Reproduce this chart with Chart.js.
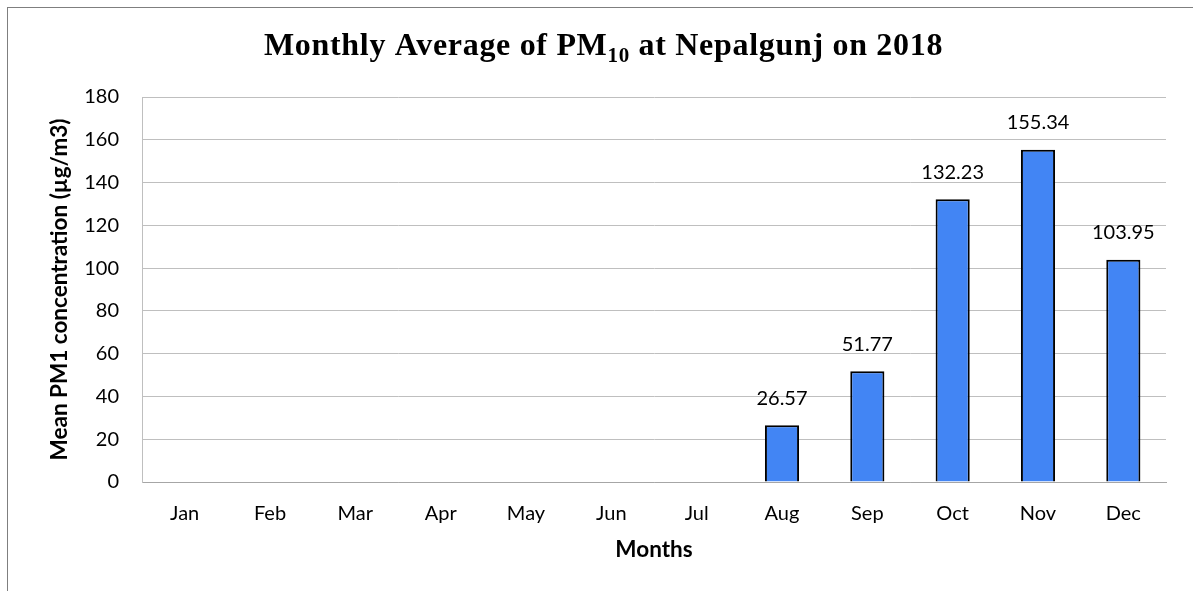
<!DOCTYPE html>
<html>
<head>
<meta charset="utf-8">
<script src="https://cdn.jsdelivr.net/npm/chart.js@4"></script>
<style>
  html, body { margin: 0; padding: 0; background: #fff; }
  #wrap { position: relative; width: 1193px; height: 591px; overflow: hidden; }
  canvas { display: block; }
</style>
</head>
<body>
<div id="wrap"><canvas id="c" width="1193" height="591"></canvas></div>
<script>
const months = ["Jan","Feb","Mar","Apr","May","Jun","Jul","Aug","Sep","Oct","Nov","Dec"];
const pm10Values = [null, null, null, null, null, null, null, 26.57, 51.77, 132.23, 155.34, 103.95];
const valueLabels = ["", "", "", "", "", "", "", "26.57", "51.77", "132.23", "155.34", "103.95"];
const yTicks = [0, 20, 40, 60, 80, 100, 120, 140, 160, 180];
const titleMain = "Monthly Average of PM";
const titleSub = "10";
const titleEnd = " at Nepalgunj on 2018";
const xAxisTitle = "Months";
const yAxisTitle = "Mean PM1 concentration (\u00b5g/m3)";

const SANS = "Lato, 'Open Sans', sans-serif";
const SERIF = "'Liberation Serif', 'DejaVu Serif', serif";

const decor = {
  id: 'decor',
  beforeDraw(chart) {
    const ctx = chart.ctx;
    ctx.save();
    ctx.fillStyle = '#fff';
    ctx.fillRect(0, 0, chart.width, chart.height);
    ctx.strokeStyle = '#7f7f7f';
    ctx.lineWidth = 1;
    ctx.strokeRect(7.5, 7.5, 2000, 2000);
    ctx.restore();
  },
  afterDraw(chart) {
    const ctx = chart.ctx;
    const area = chart.chartArea;
    ctx.save();
    // Title with subscript
    const size = 32;
    const subSize = 21;
    const hasLS = ('letterSpacing' in ctx);
    const widthOf = () => {
      ctx.font = `bold ${size}px ${SERIF}`;
      const a = ctx.measureText(titleMain).width + ctx.measureText(titleEnd).width;
      ctx.font = `bold ${subSize}px ${SERIF}`;
      return a + ctx.measureText(titleSub).width;
    };
    if (hasLS) ctx.letterSpacing = '0px';
    const natural = widthOf();
    if (hasLS) {
      const n = (titleMain + titleSub + titleEnd).length;
      const sp = Math.max(0, Math.min(2, (679 - natural) / n));
      ctx.letterSpacing = sp.toFixed(2) + 'px';
    }
    ctx.font = `bold ${size}px ${SERIF}`;
    const w1 = ctx.measureText(titleMain).width;
    const w3 = ctx.measureText(titleEnd).width;
    ctx.font = `bold ${subSize}px ${SERIF}`;
    const w2 = ctx.measureText(titleSub).width;
    const total = w1 + w2 + w3;
    let x = 603.5 - total / 2;
    ctx.fillStyle = '#000';
    ctx.textAlign = 'left';
    ctx.textBaseline = 'alphabetic';
    ctx.font = `bold ${size}px ${SERIF}`;
    ctx.fillText(titleMain, x, 55);
    x += w1;
    ctx.font = `bold ${subSize}px ${SERIF}`;
    ctx.fillText(titleSub, x, 62);
    x += w2;
    ctx.font = `bold ${size}px ${SERIF}`;
    ctx.fillText(titleEnd, x, 55);
    if (hasLS) ctx.letterSpacing = '0px';

    // Axis titles
    ctx.font = `bold 22.5px ${SANS}`;
    ctx.textAlign = 'center';
    ctx.textBaseline = 'middle';
    ctx.fillText(xAxisTitle, (area.left + area.right) / 2, 550);
    ctx.translate(60, (area.top + area.bottom) / 2);
    ctx.rotate(-Math.PI / 2);
    ctx.fillText(yAxisTitle, 0, 0);
    ctx.restore();

    // Data labels
    ctx.save();
    ctx.font = `20px ${SANS}`;
    ctx.fillStyle = '#000';
    ctx.textAlign = 'center';
    ctx.textBaseline = 'middle';
    const meta = chart.getDatasetMeta(0);
    meta.data.forEach((bar, i) => {
      if (pm10Values[i] == null) return;
      ctx.fillText(valueLabels[i], bar.x, bar.y - 27);
    });
    ctx.restore();
  }
};

new Chart(document.getElementById('c'), {
  type: 'bar',
  data: {
    labels: months,
    datasets: [{
      label: 'PM10',
      data: pm10Values,
      backgroundColor: '#4285f4',
      borderColor: '#000',
      borderWidth: 2,
      categoryPercentage: 1,
      barPercentage: 0.4
    }]
  },
  options: {
    responsive: false,
    devicePixelRatio: 1,
    animation: false,
    layout: { padding: { top: 97, right: 27, left: 0, bottom: 0 } },
    plugins: { legend: { display: false }, title: { display: false }, tooltip: { enabled: false } },
    scales: {
      x: {
        grid: { display: false, drawTicks: false },
        border: { display: true, color: '#a6a6a6', width: 1 },
        ticks: { color: '#000', font: { family: SANS, size: 20 }, padding: 20, maxRotation: 0, autoSkip: false },
        afterFit(scale) { scale.height = 109; }
      },
      y: {
        min: 0,
        max: 180,
        afterBuildTicks(scale) { scale.ticks = yTicks.map(v => ({ value: v })); },
        grid: { color: '#bfbfbf', lineWidth: 1, drawTicks: false },
        border: { display: true, color: '#bfbfbf', width: 1 },
        ticks: { color: '#000', font: { family: SANS, size: 20 }, padding: 23 },
        afterFit(scale) { scale.width = 142; }
      }
    }
  },
  plugins: [decor]
});
</script>
</body>
</html>
